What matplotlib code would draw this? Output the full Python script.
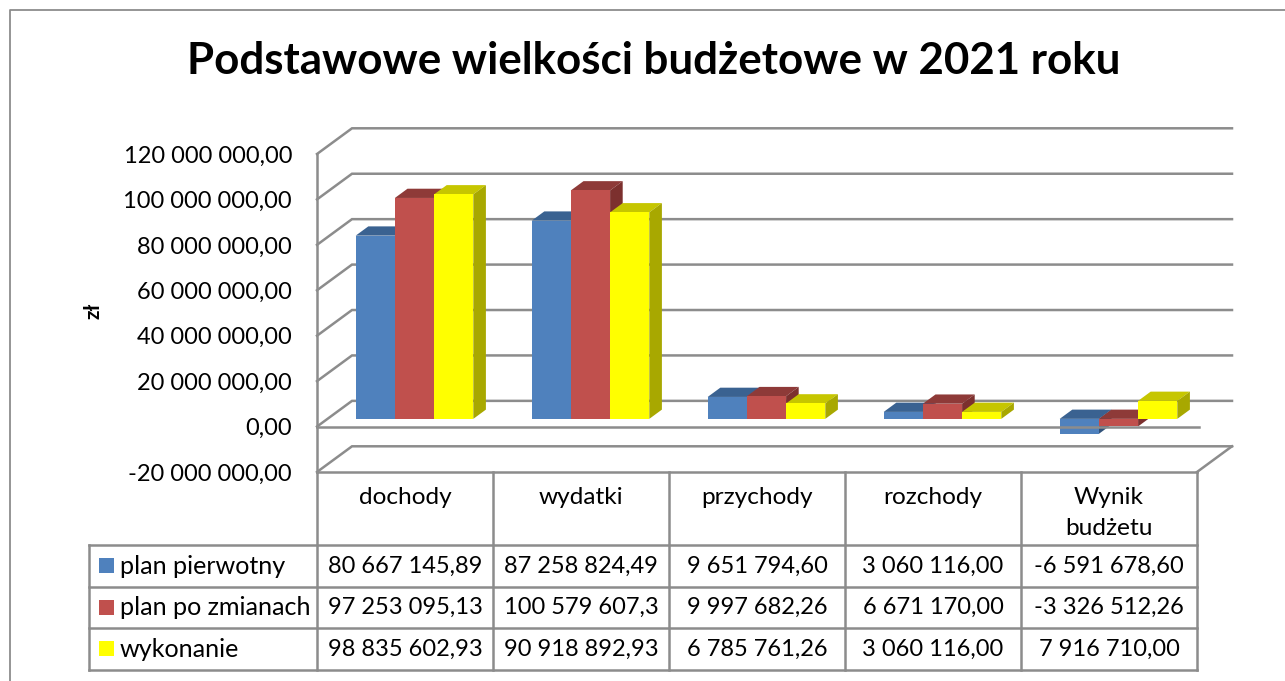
import matplotlib
matplotlib.use("Agg")
import matplotlib.pyplot as plt
from matplotlib.patches import Polygon, Rectangle

W, H = 1285, 681
FONT = "Lato"
plt.rcParams["font.family"] = [FONT, "DejaVu Sans"]

title = "Podstawowe wielkości budżetowe w 2021 roku"
categories = ["dochody", "wydatki", "przychody", "rozchody", "Wynik\nbudżetu"]
series_names = ["plan pierwotny", "plan po zmianach", "wykonanie"]
plan_pierwotny = [80667145.89, 87258824.49, 9651794.60, 3060116.00, -6591678.60]
plan_po_zmianach = [97253095.13, 100579607.30, 9997682.26, 6671170.00, -3326512.26]
wykonanie = [98835602.93, 90918892.93, 6785761.26, 3060116.00, 7916710.00]
series = [plan_pierwotny, plan_po_zmianach, wykonanie]
y_ticks = [-20e6, 0, 20e6, 40e6, 60e6, 80e6, 100e6, 120e6]
y_unit = "zł"

front = ["#4F81BD", "#C0504D", "#FFFF00"]
top = ["#3A6291", "#8E3A38", "#C6C600"]
side = ["#31527A", "#7C302E", "#A8A800"]
GRID = "#8C8C8C"
LW = 1.8


def fmt(v):
    return f"{v:,.2f}".replace(",", " ").replace(".", ",")


fig = plt.figure(figsize=(W / 100, H / 100), dpi=100, facecolor="white")

# full-figure page axes in pixels: frame and table rules
page = fig.add_axes([0, 0, 1, 1], zorder=0)
page.set_xlim(0, W)
page.set_ylim(H, 0)
page.axis("off")
page.plot([10, 10, W + 5], [H + 5, 9.5, 9.5], color=GRID, lw=1.3, clip_on=False)

X0, X1 = 317, 1197
Y_TOP, Y_BOT = 154, 472
ax = fig.add_axes([X0 / W, 1 - Y_BOT / H, (X1 - X0) / W, (Y_BOT - Y_TOP) / H], zorder=1)
ax.patch.set_alpha(0)
ax.set_xlim(0, 5)
ax.set_ylim(-20e6, 120e6)
for s in ax.spines.values():
    s.set_visible(False)

# depth offsets of the oblique projection, in data units
DX = 35 / ((X1 - X0) / 5)
DY = 25.7 / ((Y_BOT - Y_TOP) / 140e6)


def proj(x, y, d):
    return x + d * DX, y + d * DY


# walls
for v in y_ticks:
    xa, ya = proj(0, v, 0)
    xb, yb = proj(0, v, 1)
    xc, yc = proj(5, v, 1)
    ax.plot([xa, xb, xc], [ya, yb, yc], color=GRID, lw=LW, clip_on=False, zorder=1,
            solid_joinstyle="miter")
xr, yr = proj(5, y_ticks[0], 1)
ax.plot([5, xr], [y_ticks[0], yr], color=GRID, lw=LW, clip_on=False, zorder=1)
ax.plot([0, 5], [y_ticks[0], y_ticks[0]], color=GRID, lw=LW, clip_on=False, zorder=1)
ax.plot([0, 0], [y_ticks[0], y_ticks[-1]], color=GRID, lw=LW, clip_on=False, zorder=1)

# 3-D columns
BAR_W = 39.2 / ((X1 - X0) / 5)
D0, D1 = 0.30, 0.66
SHIFT = -1.0 / ((X1 - X0) / 5)
z = 2
for c in range(len(categories)):
    for s, vals in enumerate(series):
        v = vals[c]
        left = c + 0.5 + (s - 1.5) * BAR_W + SHIFT
        right = left + BAR_W
        lo, hi = min(0, v), max(0, v)
        ax.add_patch(Polygon([proj(left, hi, D0), proj(right, hi, D0),
                              proj(right, hi, D1), proj(left, hi, D1)],
                             fc=top[s], ec="none", zorder=z, clip_on=False))
        ax.add_patch(Polygon([proj(right, lo, D0), proj(right, hi, D0),
                              proj(right, hi, D1), proj(right, lo, D1)],
                             fc=side[s], ec="none", zorder=z, clip_on=False))
        xl, yl = proj(left, lo, D0)
        ax.bar(xl, hi - lo, width=BAR_W, bottom=yl, align="edge", color=front[s],
               zorder=z, clip_on=False)
        z += 1

# front zero line passes over the negative columns
ax.plot([0, 5.01], [0, 0], color=GRID, lw=LW, clip_on=False, zorder=z + 1)

# axes text
ax.set_yticks(y_ticks)
ax.set_yticklabels([fmt(v) for v in y_ticks], fontsize=17)
ax.tick_params(axis="y", length=0, pad=18)
ax.set_xticks([i + 0.5 for i in range(len(categories))])
ax.set_xticklabels(categories, fontsize=17.6, linespacing=1.55)
ax.tick_params(axis="x", length=0, pad=11)
ax.set_ylabel(y_unit, fontsize=15, fontweight="bold", rotation=90, va="center", ha="center")
ax.yaxis.set_label_coords((93 - X0) / (X1 - X0), (Y_BOT - 311) / (Y_BOT - Y_TOP))

fig.text(653.5 / W, 1 - 61.5 / H, title, fontsize=31.6, fontweight="bold", ha="center", va="center")

# data table
col_edges = [X0 + i * (X1 - X0) / 5 for i in range(6)]
row_edges = [545, 586.5, 628, 669.5]
for x in col_edges:
    page.plot([x, x], [Y_BOT, row_edges[-1]], color=GRID, lw=LW, zorder=1)
page.plot([89, 89], [row_edges[0], row_edges[-1]], color=GRID, lw=LW, zorder=1)
for y in row_edges:
    page.plot([89, X1], [y, y], color=GRID, lw=LW, zorder=1)
for r, name in enumerate(series_names):
    yc = (row_edges[r] + row_edges[r + 1]) / 2
    page.add_patch(Rectangle((99, yc - 7.5), 15, 15, fc=front[r], ec="none", zorder=2))
    page.text(120, yc + 0.5, name, fontsize=18.1, ha="left", va="center", color="black")
    for c in range(len(categories)):
        page.text((col_edges[c] + col_edges[c + 1]) / 2, yc + 0.5, fmt(series[r][c])[:13],
                  fontsize=17, ha="center", va="center", color="black")

fig.savefig("out.png", dpi=100)
